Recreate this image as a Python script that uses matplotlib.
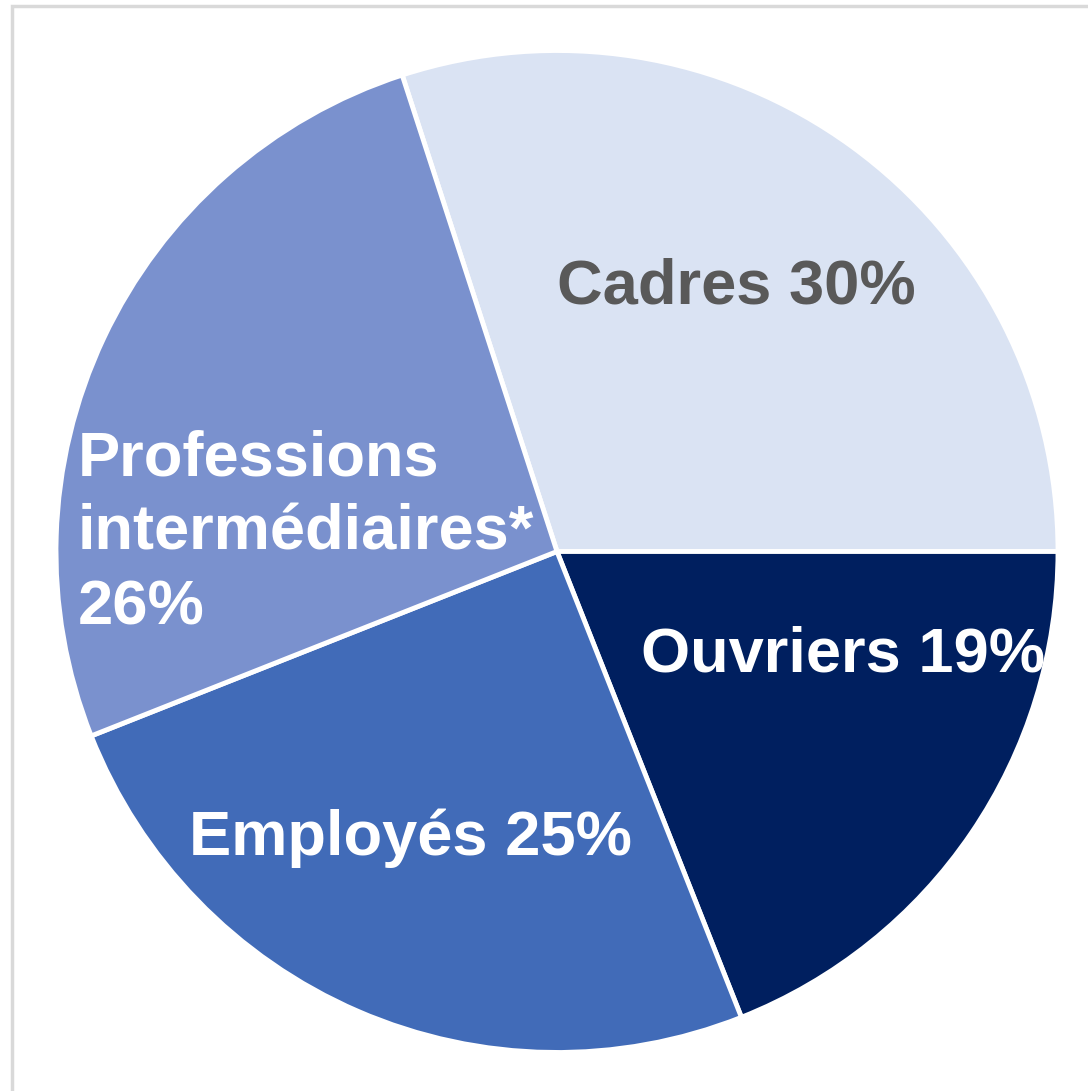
import matplotlib
matplotlib.use("Agg")
from matplotlib import pyplot as plt
from matplotlib.patches import Rectangle

categories = ["Cadres", "Ouvriers", "Employés", "Professions\nintermédiaires*"]
values = [30, 19, 25, 26]
colors = ["#DAE3F3", "#001F5F", "#416BB8", "#7A91CE"]
text_colors = ["#595959", "white", "white", "white"]

plt.rcParams['font.family'] = ['Liberation Sans', 'DejaVu Sans']

W, H = 1088, 1091
fig = plt.figure(figsize=(W / 100, H / 100), dpi=100)

# light grey frame (cropped on right and bottom)
fig.patches.append(Rectangle((12 / W, -0.1), 1.2, (H - 6) / H + 0.1,
                             transform=fig.transFigure, fill=False,
                             edgecolor="#D9D9D9", linewidth=2.5))

cx, cy, r = 557, 551.5, 501
ax = fig.add_axes([(cx - r) / W, (H - cy - r) / H, 2 * r / W, 2 * r / H])
ax.pie(values, colors=colors, startangle=108, counterclock=False,
       wedgeprops=dict(edgecolor="white", linewidth=3.5))
ax.set_xlim(-1, 1)
ax.set_ylim(-1, 1)
ax.set_aspect("equal")
ax.axis("off")

# label positions (data coords)
pos = [(0.357, 0.528), (0.571, -0.207), (-0.293, -0.572), (-0.956, 0.036)]
for i, (c, v) in enumerate(zip(categories, values)):
    if i == 3:
        ax.text(pos[i][0], pos[i][1], f"{c}\n{v}%", ha="left", va="center",
                fontsize=45.5, fontweight="bold", color=text_colors[i],
                linespacing=1.33)
    else:
        ax.text(pos[i][0], pos[i][1], f"{c} {v}%", ha="center", va="center",
                fontsize=45.5, fontweight="bold", color=text_colors[i])

fig.savefig("out.png", dpi=100)
